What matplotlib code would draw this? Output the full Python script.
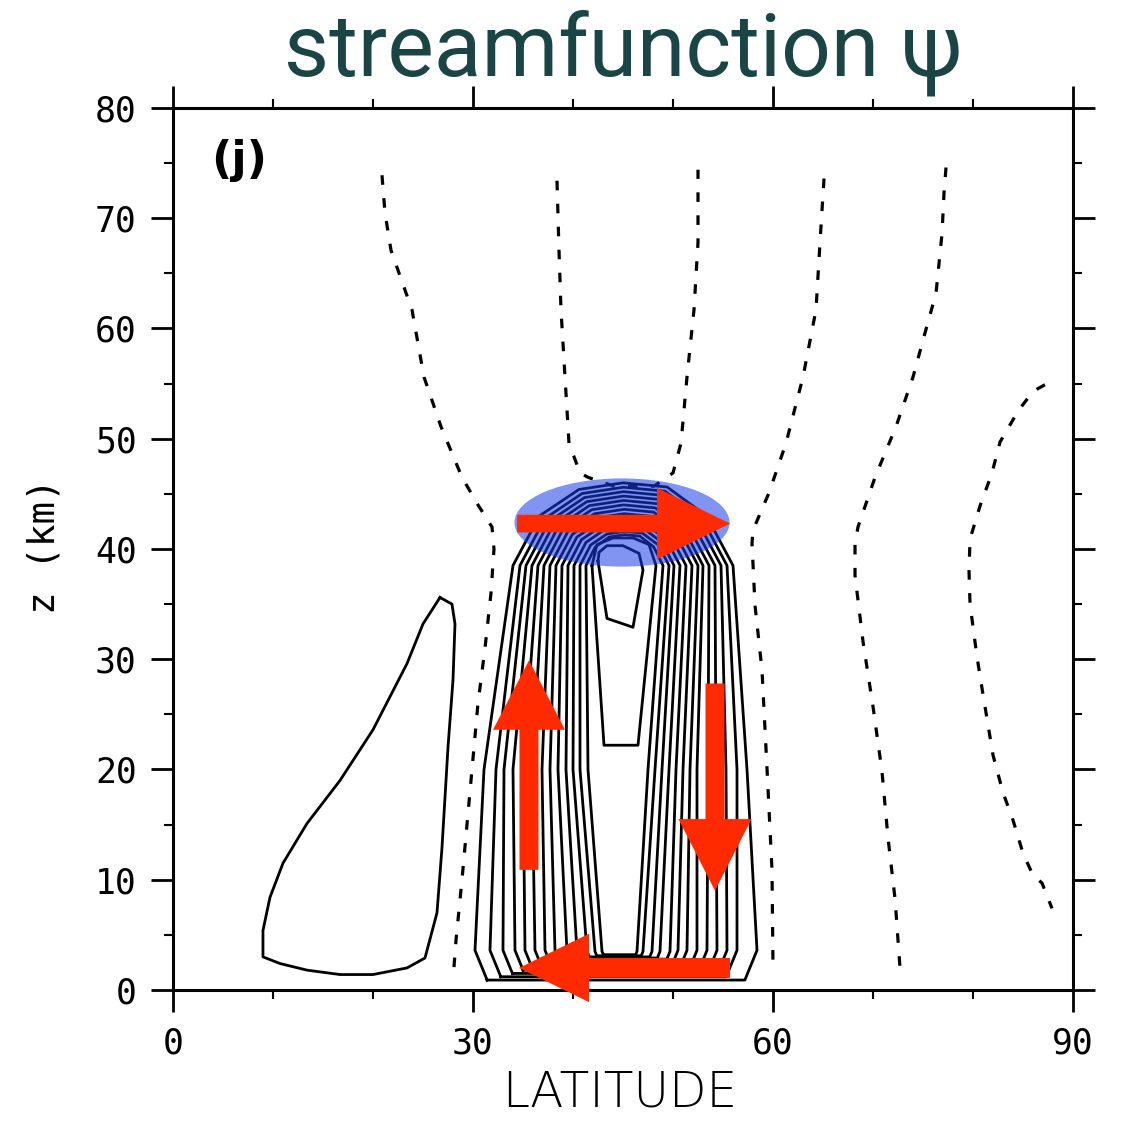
import numpy as np
import matplotlib
matplotlib.use('Agg')
import matplotlib.pyplot as plt
from matplotlib.patches import Ellipse

# ---- dashed (negative) contours as (latitude, z km)
D1_LAT = [20.9, 21.2, 21.8, 23.0, 23.9, 25.1, 26.8, 28.9, 30.5, 31.9, 32.1, 31.8, 31.2, 30.5, 29.7, 28.9, 28.3, 28.0]
D1_Z   = [73.9, 70.5, 67.1, 64.0, 61.7, 55.6, 51.1, 46.5, 44.0, 42.0, 40.0, 36.0, 31.0, 26.0, 18.0, 10.0, 4.5, 0.9]

D2_LAT = [38.4, 38.6, 38.8, 39.2, 39.6, 40.7, 41.5, 44.1, 48.1, 50.0, 50.8, 51.4, 52.1, 52.5, 52.5]
D2_Z   = [73.4, 67.1, 61.7, 55.6, 49.6, 46.9, 46.5, 45.7, 45.7, 46.9, 49.6, 55.6, 61.7, 67.8, 74.4]

D3_LAT = [65.1, 64.7, 64.3, 63.0, 61.3, 59.6, 58.0, 57.9, 58.2, 58.9, 59.4, 59.9, 60.0]
D3_Z   = [73.6, 67.8, 61.7, 55.6, 49.6, 45.1, 41.7, 40.5, 34.9, 29.0, 20.1, 10.9, 2.0]

D4_LAT = [77.3, 77.1, 76.9, 76.3, 75.2, 74.0, 72.3, 70.2, 68.5, 68.2, 68.2, 69.0, 70.0, 70.9, 71.5, 72.2, 72.7]
D4_Z   = [74.6, 72.3, 68.6, 63.2, 59.6, 55.6, 51.1, 46.5, 42.0, 40.5, 37.6, 31.6, 25.7, 19.8, 13.8, 8.3, 2.0]

D5_LAT = [87.2, 86.0, 84.5, 82.7, 81.9, 80.7, 79.7, 79.6, 79.7, 80.4, 81.0, 82.0, 83.0, 84.0, 85.0, 86.0, 86.9, 87.9]
D5_Z   = [54.9, 54.3, 52.5, 49.7, 46.9, 43.9, 40.9, 38.0, 35.0, 30.2, 26.8, 21.3, 17.9, 15.4, 12.4, 10.4, 9.7, 7.4]

# ---- closed solid contour in the low latitudes
LOW_LAT = [26.7, 27.9, 28.2, 28.0, 27.5, 26.9, 26.4, 25.2, 23.4, 20.0, 16.7, 13.4, 10.7, 9.0, 9.0, 9.7,
           11.0, 13.4, 16.7, 20.0, 23.4, 25.0, 26.7]
LOW_Z   = [35.6, 35.0, 33.2, 28.1, 22.0, 12.9, 7.0, 2.9, 2.0, 1.4, 1.4, 1.8, 2.4, 3.0, 5.4, 8.4,
           11.5, 15.1, 19.0, 23.6, 29.6, 33.2, 35.6]

# ---- main cell: nested loops, outer -> inner, leg latitude at z = 5, 20, 38.5 km
LEFT_5   = [30.2, 31.7, 33.0, 34.2, 35.2, 36.2, 37.2, 38.2, 39.4, 40.4, 41.4, 42.2, 42.9]
LEFT_20  = [31.1, 32.3, 33.1, 34.0, 35.0, 35.9, 36.9, 37.7, 38.5, 39.3, 40.0, 40.7, 41.5]
LEFT_38  = [34.0, 34.7, 35.3, 35.9, 36.5, 37.1, 37.7, 38.3, 38.9, 39.5, 40.1, 40.7, 41.3]
RIGHT_5  = [58.4, 56.4, 55.4, 54.4, 53.4, 52.4, 51.4, 50.5, 49.7, 48.7, 47.9, 47.0, 46.4]
RIGHT_20 = [57.4, 56.4, 55.3, 54.3, 53.5, 52.4, 51.7, 51.0, 50.3, 49.6, 48.9, 48.2, 47.5]
RIGHT_38 = [56.0, 55.4, 54.8, 54.2, 53.6, 53.0, 52.5, 51.9, 51.3, 50.7, 50.1, 49.6, 49.0]
BOTTOM_Z = [0.9, 1.2, 1.5, 1.8, 2.1, 2.3, 2.5, 2.7, 2.8, 2.9, 3.0, 3.1, 3.2]
CORNER_Z = [2.7, 2.4, 2.1, 1.8, 1.5, 1.3, 1.1, 0.9, 0.7, 0.6, 0.5, 0.4, 0.3]
TOP_Z    = [46.0, 45.6, 45.2, 44.8, 44.4, 44.0, 43.6, 43.2, 42.8, 42.4, 42.0, 41.6, 41.3]

# inner V-shaped and trapezoid contours
V_LAT = [41.9, 43.1, 46.5, 48.3, 47.6, 46.0, 44.0, 42.4, 41.9]
V_Z   = [38.5, 22.2, 22.2, 38.5, 40.4, 41.0, 41.0, 40.4, 38.5]
TRAP_LAT = [42.5, 43.4, 46.0, 47.0, 46.6, 45.0, 43.4, 42.6, 42.5]
TRAP_Z   = [38.9, 33.7, 32.9, 38.1, 39.6, 40.3, 40.3, 39.7, 38.9]

TOP_FRAC  = [0.0, 0.12, 0.3, 0.5, 0.7, 0.88, 1.0]
TOP_SHAPE = [0.0, 0.6, 0.92, 1.0, 0.95, 0.6, 0.0]

RED = '#ff2a00'
MONO = 'DejaVu Sans Mono'

fig = plt.figure(figsize=(11.21, 11.26), dpi=100)
ax = fig.add_axes([0.1543, 0.1208, 0.8029, 0.7833])
ax.set_xlim(0, 90)
ax.set_ylim(0, 80)

dash_kw = dict(color='black', lw=2.3, ls=(0, (3.0, 4.2)), zorder=2)
for xs, zs in [(D1_LAT, D1_Z), (D2_LAT, D2_Z), (D3_LAT, D3_Z), (D4_LAT, D4_Z), (D5_LAT, D5_Z)]:
    ax.plot(xs, zs, **dash_kw)

solid_kw = dict(color='black', lw=2.0, zorder=2)
ax.plot(LOW_LAT, LOW_Z, **solid_kw)

for i in range(len(LEFT_5)):
    zb, cz, zt = BOTTOM_Z[i], CORNER_Z[i], TOP_Z[i]
    l38, r38 = LEFT_38[i], RIGHT_38[i]
    xs = [LEFT_5[i] + 0.45 * cz, LEFT_5[i], LEFT_20[i], l38]
    zs = [zb, zb + cz, 20, 38.5]
    for f, g in zip(TOP_FRAC[1:-1], TOP_SHAPE[1:-1]):
        xs.append(l38 + f * (r38 - l38))
        zs.append(38.5 + g * (zt - 38.5))
    xs += [r38, RIGHT_20[i], RIGHT_5[i], RIGHT_5[i] - 0.45 * cz, LEFT_5[i] + 0.45 * cz]
    zs += [38.5, 20, zb + cz, zb, zb]
    ax.plot(xs, zs, **solid_kw)

ax.plot(V_LAT, V_Z, **solid_kw)
ax.plot(TRAP_LAT, TRAP_Z, **solid_kw)

# highlighted jet region
ax.add_patch(Ellipse((44.9, 42.4), 21.5, 8.0, facecolor='#1a3de8', alpha=0.55, lw=0, zorder=4))

# circulation arrows
arr_kw = dict(color=RED, lw=0, length_includes_head=True, zorder=5, clip_on=False)
ax.arrow(34.4, 42.3, 21.3, 0, width=1.6, head_width=6.5, head_length=7.3, **arr_kw)
ax.arrow(35.6, 10.9, 0, 19.0, width=1.9, head_width=7.2, head_length=6.3, **arr_kw)
ax.arrow(54.2, 27.8, 0, -18.8, width=1.9, head_width=7.3, head_length=6.5, **arr_kw)
ax.arrow(55.7, 2.0, -21.1, 0, width=1.8, head_width=6.2, head_length=7.0, **arr_kw)

# axes styling
ax.set_xticks([0, 30, 60, 90])
ax.set_xticks(np.arange(0, 91, 10), minor=True)
ax.set_yticks(np.arange(0, 81, 10))
ax.set_yticks(np.arange(0, 81, 5), minor=True)
ax.tick_params(which='both', direction='out', top=True, right=True, color='black')
ax.tick_params(which='major', length=16, width=2.0, pad=10, labelsize=25)
ax.tick_params(which='minor', length=6.5, width=1.5)
for lab in ax.get_xticklabels() + ax.get_yticklabels():
    lab.set_family(MONO)
for sp in ax.spines.values():
    sp.set_linewidth(2.2)

ax.text(0.042, 0.941, '(j)', transform=ax.transAxes, fontsize=32, fontweight='bold',
        va='center', ha='left')

fig.text(0.04, 0.515, 'z (km)', rotation=90, fontsize=27, family=MONO, va='center', ha='center')
fig.text(0.553, 0.008, 'LATITUDE', fontsize=35, fontweight='light', va='bottom', ha='center')
fig.text(0.556, 0.953, 'streamfunction ψ', fontsize=63, color='#1b4545',
         family=['Roboto', 'DejaVu Sans'], va='center', ha='center')

fig.savefig('out.png', dpi=100)
